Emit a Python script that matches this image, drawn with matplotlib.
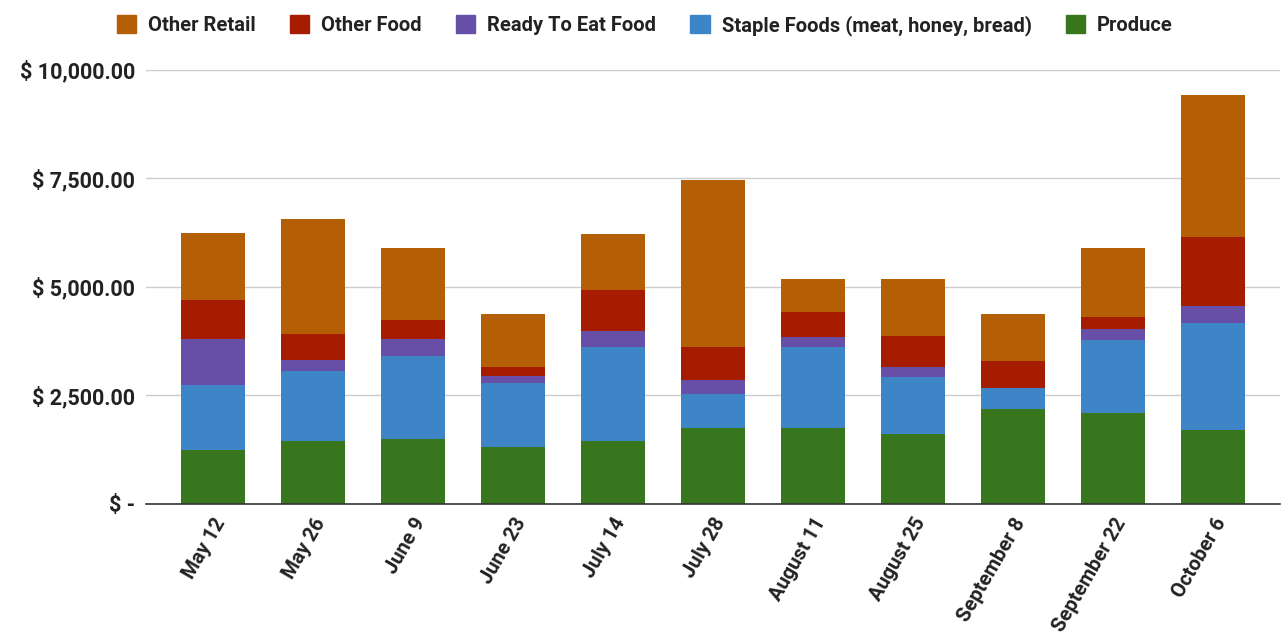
import matplotlib
matplotlib.use("Agg")
import matplotlib.pyplot as plt
from matplotlib.patches import Patch
from matplotlib.ticker import FuncFormatter
import numpy as np

categories = ["May 12", "May 26", "June 9", "June 23", "July 14", "July 28",
              "August 11", "August 25", "September 8", "September 22", "October 6"]
produce      = [1236, 1450, 1490, 1312, 1450, 1751, 1737, 1598, 2175, 2097, 1697]
staple_foods = [1500, 1610, 1916, 1463, 2171,  771, 1884, 1317,  500, 1686, 2465]
ready_to_eat = [1070,  255,  393,  177,  356,  323,  217,  244,    0,  232,  392]
other_food   = [ 890,  595,  439,  208,  954,  776,  569,  716,  623,  285, 1594]
other_retail = [1550, 2660, 1656, 1200, 1286, 3834,  778, 1310, 1072, 1594, 3270]

series_names = ["Produce", "Staple Foods (meat, honey, bread)", "Ready To Eat Food",
                "Other Food", "Other Retail"]
series_values = [produce, staple_foods, ready_to_eat, other_food, other_retail]
colors = ["#38761D", "#3D85C6", "#674EA7", "#A61C00", "#B45F06"]

plt.rcParams['font.family'] = ['Roboto', 'DejaVu Sans']
W = 'bold'
FS = 14.5

fig = plt.figure(figsize=(12.87, 6.39), dpi=100)
ax = fig.add_axes([146/1287, 1 - 503.5/639, (1280-146)/1287, (503.5-70)/639])

x = np.arange(len(categories))
bottom = np.zeros(len(categories))
for name, vals, c in zip(series_names, series_values, colors):
    v = np.array(vals, dtype=float)
    ax.bar(x, v, bottom=bottom, width=0.64, color=c, label=name, zorder=3)
    bottom += v

ax.set_xlim(-0.67, len(categories) - 1 + 0.67)
ax.set_ylim(0, 10000)
ax.set_yticks([0, 2500, 5000, 7500, 10000])
ax.yaxis.set_major_formatter(FuncFormatter(lambda v, p: "$ -" if v == 0 else "$ {:,.2f}".format(v)))
ax.grid(axis='y', color='#cccccc', linewidth=1, zorder=0)
for s in ['top', 'right', 'left']:
    ax.spines[s].set_visible(False)
ax.spines['bottom'].set_color('#333333')
ax.spines['bottom'].set_linewidth(1.2)
ax.spines['bottom'].set_zorder(4)
ax.tick_params(axis='both', length=0)
ax.tick_params(axis='y', pad=8, labelsize=15.5, labelcolor='#222222')
ax.set_xticks(x)
ax.set_xticklabels(categories, rotation=60, ha='right', rotation_mode='anchor',
                   fontsize=FS, color='#222222', fontweight=W)
for lbl in ax.get_yticklabels():
    lbl.set_fontweight(W)
ax.tick_params(axis='x', pad=8)

handles = [Patch(facecolor=c, edgecolor=c, label=n) for n, c in zip(series_names, colors)][::-1]
leg = fig.legend(handles=handles, loc='upper center', bbox_to_anchor=(0.501, 1.005), ncol=5,
                 frameon=False, handlelength=0.95, handleheight=0.95,
                 handletextpad=0.6, columnspacing=1.7, prop={'weight': W, 'size': FS})
for t in leg.get_texts():
    t.set_color('#222222')

fig.savefig("out.png", dpi=100)
